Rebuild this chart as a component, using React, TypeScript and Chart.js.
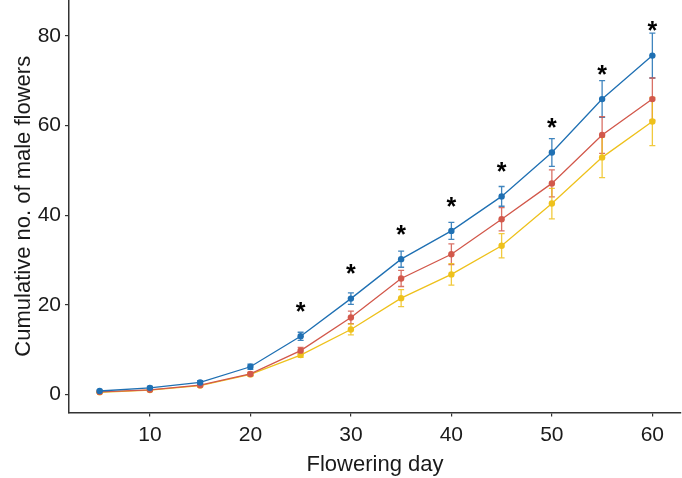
import React, { useEffect, useRef } from "react";
import { Chart, registerables } from "chart.js";

Chart.register(...registerables);

// flowering days sampled
const days = [5, 10, 15, 20, 25, 30, 35, 40, 45, 50, 55, 60];

// cumulative means and standard errors, one pair per line
const blueMean = [0.8, 1.5, 2.7, 6.2, 13.0, 21.4, 30.2, 36.5, 44.2, 54.0, 65.9, 75.6];
const blueErr = [0.2, 0.3, 0.4, 0.6, 0.9, 1.3, 1.8, 1.9, 2.2, 3.1, 4.1, 5.0];
const redMean = [0.6, 1.05, 2.1, 4.6, 9.8, 17.2, 25.9, 31.3, 39.1, 47.1, 57.9, 65.9];
const redErr = [0.1, 0.2, 0.3, 0.4, 0.7, 1.4, 1.8, 2.3, 2.6, 3.0, 4.1, 4.7];
const yellowMean = [0.5, 1.0, 2.0, 4.5, 8.8, 14.5, 21.5, 26.8, 33.2, 42.6, 52.9, 60.9];
const yellowErr = [0.1, 0.1, 0.2, 0.3, 0.5, 1.2, 1.9, 2.4, 2.7, 3.4, 4.5, 5.4];

// significance markers
const starDays = [25, 30, 35, 40, 45, 50, 55, 60];
const starY = [19.5, 27.9, 36.6, 42.9, 50.8, 60.6, 72.4, 82.2];

const xTicks = [10, 20, 30, 40, 50, 60];
const yTicks = [0, 20, 40, 60, 80];

const X_MIN = 1.95;
const X_MAX = 62.85;
const Y_MIN = -4;
const Y_MAX = 88;

const BLUE = "#1f70b3";
const RED = "#d2584b";
const YELLOW = "#eec11c";
const AXIS = "#333333";
const TEXT = "#1a1a1a";
const FONT = "'Liberation Sans', Arial, sans-serif";

const errorBarPlugin = {
  id: "errorBars",
  beforeDatasetsDraw(chart: any) {
    const { ctx, scales } = chart;
    const xs = scales.x;
    const ys = scales.y;
    ctx.save();
    chart.data.datasets.forEach((ds: any) => {
      const errs: number[] = ds.errors;
      if (!errs) return;
      ctx.strokeStyle = ds.borderColor;
      ctx.globalAlpha = 0.85;
      ctx.lineWidth = 1.3;
      ds.data.forEach((p: any, i: number) => {
        const x = xs.getPixelForValue(p.x);
        const yTop = ys.getPixelForValue(p.y + errs[i]);
        const yBot = ys.getPixelForValue(p.y - errs[i]);
        ctx.beginPath();
        ctx.moveTo(x, yTop);
        ctx.lineTo(x, yBot);
        ctx.moveTo(x - 3, yTop);
        ctx.lineTo(x + 3, yTop);
        ctx.moveTo(x - 3, yBot);
        ctx.lineTo(x + 3, yBot);
        ctx.stroke();
      });
    });
    ctx.restore();
  },
  afterDatasetsDraw(chart: any) {
    const { ctx, scales } = chart;
    ctx.save();
    ctx.fillStyle = "#000";
    ctx.font = `bold 25px ${FONT}`;
    ctx.textAlign = "center";
    ctx.textBaseline = "alphabetic";
    const m = ctx.measureText("*");
    const mid = (m.actualBoundingBoxAscent - m.actualBoundingBoxDescent) / 2;
    starDays.forEach((d, i) => {
      const x = scales.x.getPixelForValue(d);
      const y = scales.y.getPixelForValue(starY[i]);
      ctx.fillText("*", x, y + mid);
    });
    ctx.restore();
  },
};

const toPoints = (vals: number[]) => days.map((d, i) => ({ x: d, y: vals[i] }));

const App: React.FC = () => {
  const canvasRef = useRef<HTMLCanvasElement | null>(null);

  useEffect(() => {
    document.body.style.margin = "0";
    if (!canvasRef.current) return;

    const line = (label: string, color: string, mean: number[], errs: number[]) => ({
      label,
      data: toPoints(mean),
      errors: errs,
      borderColor: color,
      backgroundColor: color,
      borderWidth: 1.3,
      pointRadius: 3.2,
      pointBorderWidth: 0,
      tension: 0,
    });

    const chart = new Chart(canvasRef.current, {
      type: "line",
      data: {
        datasets: [
          line("Group 1", BLUE, blueMean, blueErr),
          line("Group 2", RED, redMean, redErr),
          line("Group 3", YELLOW, yellowMean, yellowErr),
        ] as any,
      },
      options: {
        animation: false,
        responsive: false,
        layout: { autoPadding: false, padding: { top: 0, right: 1, bottom: 0, left: 0 } },
        plugins: {
          legend: { display: false },
          tooltip: { enabled: false },
        },
        scales: {
          x: {
            type: "linear",
            min: X_MIN,
            max: X_MAX,
            afterBuildTicks: (s: any) => {
              s.ticks = xTicks.map((v) => ({ value: v }));
            },
            afterFit: (s: any) => {
              s.height = 65.5;
              s.paddingLeft = 0;
              s.paddingRight = 0;
            },
            grid: {
              drawOnChartArea: false,
              drawTicks: true,
              tickLength: 4,
              color: AXIS,
              lineWidth: 1.2,
            },
            border: { display: true, color: AXIS, width: 1.5 },
            ticks: {
              color: TEXT,
              padding: 6,
              font: { family: FONT, size: 21 },
            },
            title: {
              display: true,
              text: "Flowering day",
              color: TEXT,
              font: { family: FONT, size: 22 },
              padding: { top: 0, bottom: 0 },
            },
          },
          y: {
            type: "linear",
            min: Y_MIN,
            max: Y_MAX,
            afterBuildTicks: (s: any) => {
              s.ticks = yTicks.map((v) => ({ value: v }));
            },
            afterFit: (s: any) => {
              s.width = 69;
              s.paddingTop = 0;
              s.paddingBottom = 0;
            },
            grid: {
              drawOnChartArea: false,
              drawTicks: true,
              tickLength: 4,
              color: AXIS,
              lineWidth: 1.2,
            },
            border: { display: true, color: AXIS, width: 1.5 },
            ticks: {
              color: TEXT,
              padding: 4,
              font: { family: FONT, size: 21 },
            },
            title: {
              display: true,
              text: "Cumulative no. of male flowers",
              color: TEXT,
              font: { family: FONT, size: 22 },
              padding: { top: 11, bottom: 0 },
            },
          },
        },
      },
      plugins: [errorBarPlugin],
    });

    return () => {
      chart.destroy();
    };
  }, []);

  return (
    <div style={{ width: 682, height: 478, background: "#fff" }}>
      <canvas ref={canvasRef} width={682} height={478} style={{ display: "block" }} />
    </div>
  );
};

export default App;
